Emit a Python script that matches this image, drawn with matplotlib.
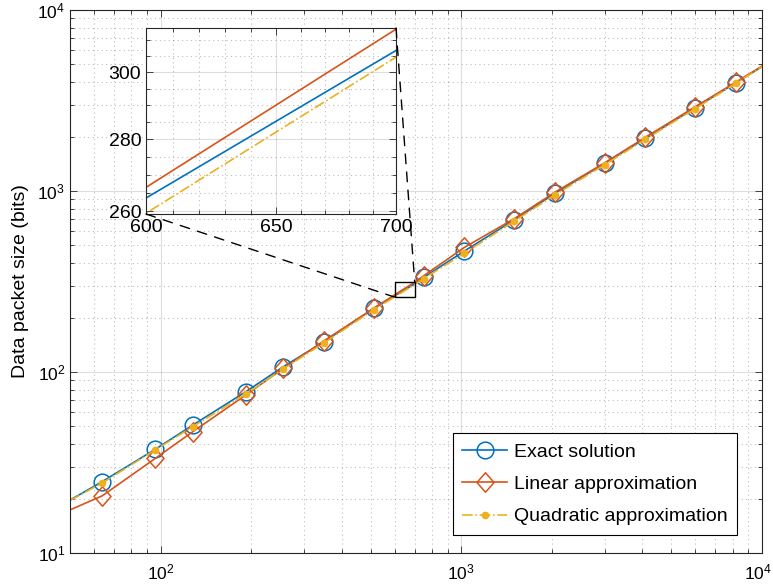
import numpy as np
import matplotlib
matplotlib.use('Agg')
import matplotlib.pyplot as plt
from matplotlib.patches import Rectangle, ConnectionPatch
from matplotlib.path import Path
from matplotlib.transforms import ScaledTranslation
from matplotlib.ticker import FixedLocator, NullFormatter, FixedFormatter

plt.rcParams['font.family'] = ['Liberation Sans', 'DejaVu Sans']
plt.rcParams['font.size'] = 14
plt.rcParams['mathtext.fontset'] = 'custom'
plt.rcParams['mathtext.rm'] = 'Liberation Sans'

# DATA
x_vals = [50, 64, 96, 128, 192, 256, 350, 512, 600, 700, 750, 1024, 1500,
          2048, 3000, 4096, 6000, 8192, 10000]
x_markers = [64, 96, 128, 192, 256, 350, 512, 750, 1024, 1500, 2048, 3000,
             4096, 6000, 8192]
exact = [19.6, 24.8, 37.4, 50.9, 77.8, 107, 147, 225, 263.6, 306.8, 333, 466,
         692, 970, 1422, 1954, 2884, 3963, 4862]
linear = [17.3, 20.7, 33.3, 46.8, 74.6, 104.7, 148.9, 225, 266.5, 313.6, 340,
          488, 703, 984, 1432, 1981, 2923, 3998, 4900]
quad = [19.5, 24.4, 37.1, 49.9, 75.5, 104, 145, 221, 259.5, 304.7, 328, 453,
        682, 951, 1397, 1931, 2851, 3937, 4862]
labels = ['Exact solution', 'Linear approximation', 'Quadratic approximation']

# inset zoom window
zoom_x = (600, 700)
zoom_y = (259.3, 314)
inset_xticks = [600, 650, 700]
inset_yticks = [260, 280, 300]

blue = '#0072BD'
red = '#D95319'
yellow = '#EDB120'

# MATLAB-like diamond: a bit taller than wide
diamond = Path([(0, 1), (0.88, 0), (0, -1), (-0.88, 0), (0, 1)],
               [Path.MOVETO, Path.LINETO, Path.LINETO, Path.LINETO, Path.CLOSEPOLY])

mark_idx = list(np.where(np.isin(x_vals, x_markers))[0])

fig = plt.figure(figsize=(7.73, 5.85), dpi=100)
ax = fig.add_axes([0.0906, 0.0547, 0.8952, 0.9282])


def draw_series(a, markers=True):
    kw = dict(markevery=mark_idx) if markers else {}
    a.plot(x_vals, exact, color=blue, lw=1.2, marker='o' if markers else None,
           ms=12, mfc='none', mew=1.1, label=labels[0], **kw)
    a.plot(x_vals, linear, color=red, lw=1.2, marker=diamond if markers else None,
           ms=14, mfc='none', mew=1.1, label=labels[1], **kw)
    a.plot(x_vals, quad, color=yellow, lw=1.2, ls='-.',
           marker='.' if markers else None, ms=9, label=labels[2], **kw)


def style_grid(a):
    a.grid(True, which='major', color=(0.15, 0.15, 0.15), alpha=0.15, lw=0.8)
    a.grid(True, which='minor', color=(0.15, 0.15, 0.15), alpha=0.3, lw=0.8,
           ls=(0, (1, 3)))
    a.tick_params(which='both', direction='in', top=True, right=True,
                  color='#262626', width=0.6)
    a.tick_params(which='major', length=5)
    a.tick_params(which='minor', length=3)
    for s in a.spines.values():
        s.set_color('#262626')
        s.set_linewidth(0.8)
    a.set_axisbelow(True)


draw_series(ax)
ax.set_xscale('log')
ax.set_yscale('log')
ax.set_xlim(50, 1e4)
ax.set_ylim(10, 1e4)
ax.set_ylabel('Data packet size (bits)', labelpad=6)
style_grid(ax)
ax.tick_params(axis='both', which='major', labelsize=12.5)
ax.tick_params(axis='x', pad=7)

leg = ax.legend(loc='lower right', bbox_to_anchor=(0.964, 0.033),
                borderaxespad=0, fancybox=False, framealpha=1,
                edgecolor='k', handlelength=2.3, labelspacing=0.76,
                borderpad=0.5, handletextpad=0.35, fontsize=14)
leg.get_frame().set_linewidth(0.8)

# zoom rectangle on main axes
ax.add_patch(Rectangle((zoom_x[0], zoom_y[0]), zoom_x[1] - zoom_x[0],
                       zoom_y[1] - zoom_y[0], fill=False, ec='k', lw=1,
                       zorder=5))

# inset
axins = fig.add_axes([0.1889, 0.6342, 0.3234, 0.318])
draw_series(axins, markers=False)
axins.set_xscale('log')
axins.set_yscale('log')
axins.set_xlim(*zoom_x)
axins.set_ylim(*zoom_y)
axins.xaxis.set_major_locator(FixedLocator(inset_xticks))
axins.xaxis.set_major_formatter(FixedFormatter([str(t) for t in inset_xticks]))
axins.xaxis.set_minor_locator(FixedLocator(np.arange(610, 700, 10)))
axins.xaxis.set_minor_formatter(NullFormatter())
axins.yaxis.set_major_locator(FixedLocator(inset_yticks))
axins.yaxis.set_major_formatter(FixedFormatter([str(t) for t in inset_yticks]))
axins.yaxis.set_minor_locator(FixedLocator(np.arange(265, 315, 5)))
axins.yaxis.set_minor_formatter(NullFormatter())
style_grid(axins)
axins.set_facecolor('white')

# dashed connectors
for xa, xb in [((0, 0), (zoom_x[0], zoom_y[0])), ((1, 1), (zoom_x[1], zoom_y[1]))]:
    con = ConnectionPatch(xyA=xa, coordsA=axins.transAxes, xyB=xb,
                          coordsB=ax.transData, color='k', lw=1,
                          ls=(0, (7, 6)))
    fig.add_artist(con)

# keep the 10^4 label inside the canvas
fig.canvas.draw()
for tick in ax.xaxis.get_major_ticks():
    if np.isclose(tick.get_loc(), 1e4):
        tick.label1.set_transform(tick.label1.get_transform()
                                  + ScaledTranslation(-4 / 100, 0, fig.dpi_scale_trans))

fig.savefig('out.png', dpi=100)
